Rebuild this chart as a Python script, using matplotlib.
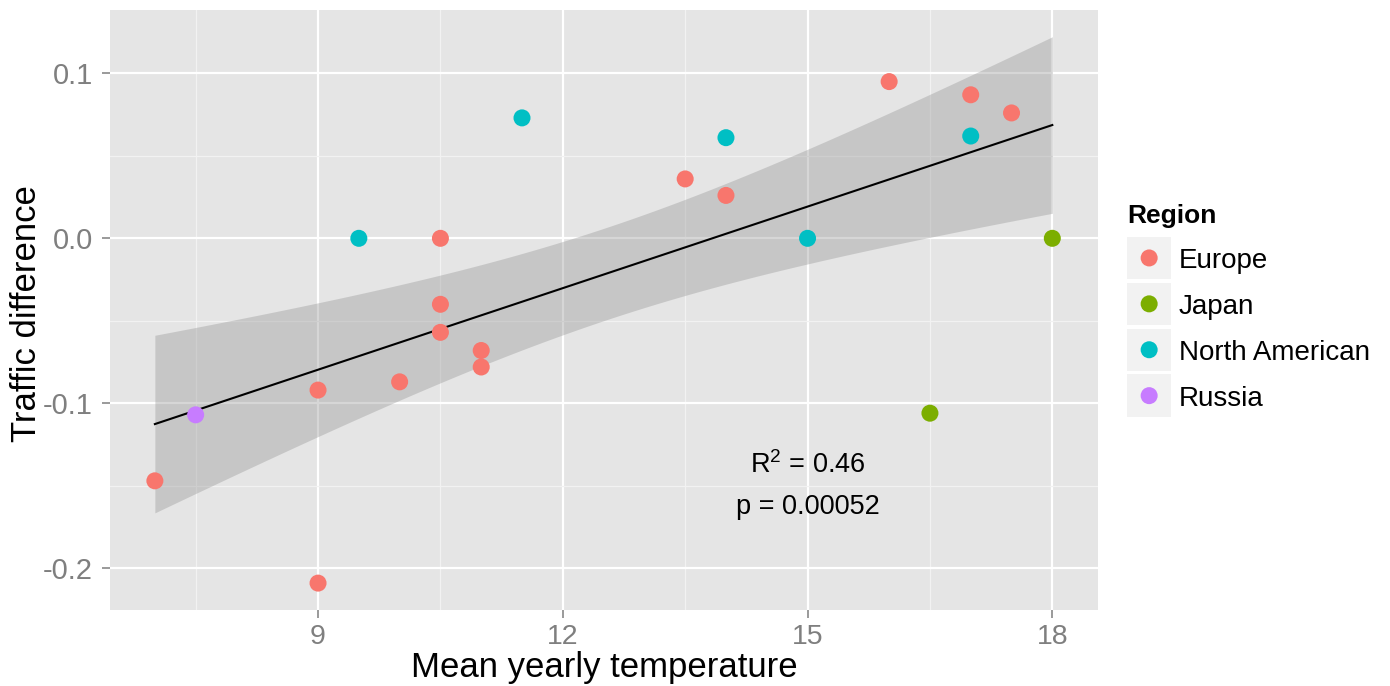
import numpy as np
import matplotlib
matplotlib.use("Agg")
import matplotlib.pyplot as plt
from matplotlib.patches import Rectangle

# ---------------- data ----------------
regions = ["Europe", "Japan", "North American", "Russia"]
region_colors = ["#F8766D", "#7CAE00", "#00BFC4", "#C77CFF"]

europe_temp = [7, 9, 9, 10, 10.5, 10.5, 10.5, 11, 11, 13.5, 14, 16, 17, 17.5]
europe_diff = [-0.147, -0.209, -0.092, -0.087, 0.0, -0.040, -0.057, -0.068, -0.078,
               0.036, 0.026, 0.095, 0.087, 0.076]
japan_temp = [16.5, 18]
japan_diff = [-0.106, 0.0]
na_temp = [9.5, 11.5, 14, 15, 17]
na_diff = [0.0, 0.073, 0.061, 0.0, 0.062]
russia_temp = [7.5]
russia_diff = [-0.107]

x_ticks = [9, 12, 15, 18]
x_tick_labels = ["9", "12", "15", "18"]
x_minor = [7.5, 10.5, 13.5, 16.5]
y_ticks = [-0.2, -0.1, 0.0, 0.1]
y_tick_labels = ["-0.2", "-0.1", "0.0", "0.1"]
y_minor = [-0.15, -0.05, 0.05]

r_squared_text = "R$^{2}$ = 0.46"
p_value_text = "p = 0.00052"
annot_x = 15
annot_y = [-0.1375, -0.163]

x_label = "Mean yearly temperature"
y_label = "Traffic difference"
legend_title = "Region"

# ---------------- style ----------------
FONT = "Liberation Sans"
plt.rcParams["font.family"] = [FONT, "DejaVu Sans"]
plt.rcParams["axes.unicode_minus"] = False
plt.rcParams["mathtext.fontset"] = "custom"
plt.rcParams["mathtext.rm"] = FONT
plt.rcParams["mathtext.it"] = FONT + ":italic"
plt.rcParams["mathtext.bf"] = FONT + ":bold"

W, H = 1390, 686
fig = plt.figure(figsize=(W / 100, H / 100), dpi=100)
fig.patch.set_facecolor("white")

# panel in pixel coordinates
pl, pt, pr, pb = 110, 9.5, 1098, 610
ax = fig.add_axes([pl / W, (H - pb) / H, (pr - pl) / W, (pb - pt) / H])
ax.set_facecolor("#E5E5E5")
for s in ax.spines.values():
    s.set_visible(False)

ax.set_xlim(6.45, 18.56)
ax.set_ylim(-0.2253, 0.1387)

ax.set_xticks(x_ticks)
ax.set_xticklabels(x_tick_labels)
ax.set_yticks(y_ticks)
ax.set_yticklabels(y_tick_labels)
ax.set_xticks(x_minor, minor=True)
ax.set_yticks(y_minor, minor=True)
ax.grid(which="major", color="white", linewidth=1.6)
ax.grid(which="minor", color="#F2F2F2", linewidth=0.9)
ax.set_axisbelow(True)
ax.tick_params(which="major", length=5.8, width=1.1, color="#7F7F7F",
               labelcolor="#7F7F7F")
ax.tick_params(axis="x", which="major", labelsize=20.5, pad=4)
ax.tick_params(axis="y", which="major", labelsize=21, pad=6.5)
ax.tick_params(which="minor", length=0)

# ---------------- regression with 95% CI ----------------
all_x = np.array(europe_temp + japan_temp + na_temp + russia_temp, dtype=float)
all_y = np.array(europe_diff + japan_diff + na_diff + russia_diff, dtype=float)
n = len(all_x)
slope, intercept = np.polyfit(all_x, all_y, 1)
resid = all_y - (slope * all_x + intercept)
s_err = np.sqrt(np.sum(resid ** 2) / (n - 2))
xbar = all_x.mean()
sxx = np.sum((all_x - xbar) ** 2)
t_crit = 2.085963  # t(0.975, df=20)
xs = np.linspace(all_x.min(), all_x.max(), 80)
ys = slope * xs + intercept
half = t_crit * s_err * np.sqrt(1.0 / n + (xs - xbar) ** 2 / sxx)
ax.fill_between(xs, ys - half, ys + half, color="#999999", alpha=0.4,
                linewidth=0, zorder=2)
ax.plot(xs, ys, color="black", linewidth=1.5, zorder=3)

# ---------------- points ----------------
series_x = [europe_temp, japan_temp, na_temp, russia_temp]
series_y = [europe_diff, japan_diff, na_diff, russia_diff]
for sx, sy, c in zip(series_x, series_y, region_colors):
    ax.scatter(sx, sy, s=150, color=c, edgecolors="none", zorder=4)

# ---------------- annotation ----------------
ax.text(annot_x, annot_y[0], r_squared_text, ha="center", va="center",
        fontsize=19.5, color="black", zorder=5)
ax.text(annot_x, annot_y[1], p_value_text, ha="center", va="center",
        fontsize=19.5, color="black", zorder=5)

# ---------------- axis titles ----------------
fig.text((pl + pr) / 2 / W, 1 - 677 / H, x_label, ha="center", va="baseline",
         fontsize=25, color="black")
fig.text(27 / W, 1 - 314 / H, y_label, ha="center", va="center",
         rotation=90, fontsize=25, color="black")

# ---------------- legend (drawn in pixel space) ----------------
lax = fig.add_axes([0, 0, 1, 1])
lax.set_xlim(0, W)
lax.set_ylim(H, 0)
lax.axis("off")
lax.patch.set_visible(False)

lax.text(1127, 223, legend_title, fontsize=19, fontweight="bold",
         ha="left", va="baseline", color="black")
key_x0, key_w, key_h, key_y0, key_step = 1127.3, 43.7, 42.5, 236.7, 45.9
for i, (name, c) in enumerate(zip(regions, region_colors)):
    y0 = key_y0 + i * key_step
    lax.add_patch(Rectangle((key_x0, y0), key_w, key_h, facecolor="#F2F2F2",
                            edgecolor="none"))
    cy = y0 + key_h / 2
    lax.scatter([key_x0 + key_w / 2], [cy], s=150, color=c, edgecolors="none")
    lax.text(1179, cy + 10, name, fontsize=20, ha="left", va="baseline",
             color="black")

fig.savefig("out.png", dpi=100, facecolor="white")
